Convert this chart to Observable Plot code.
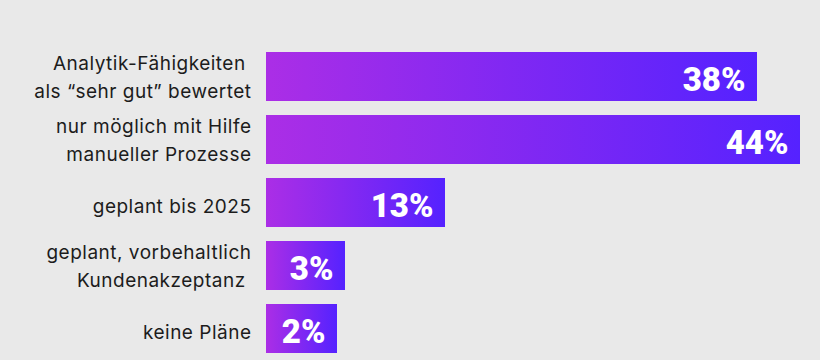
<!DOCTYPE html>
<html>
<head>
<meta charset="utf-8">
<script src="https://cdn.jsdelivr.net/npm/d3@7"></script>
<script src="https://cdn.jsdelivr.net/npm/@observablehq/plot@0.6"></script>
<style>
  html, body { margin: 0; padding: 0; background: #e9e9e9; }
  #chart { width: 820px; height: 360px; }
</style>
</head>
<body>
<div id="chart"></div>
<script>
const categories = [
  "Analytik-Fähigkeiten\u00a0\nals “sehr gut” bewertet",
  "nur möglich mit Hilfe\nmanueller Prozesse",
  "geplant bis 2025",
  "geplant, vorbehaltlich\nKundenakzeptanz\u00a0",
  "keine Pläne"
];
const values = [38, 44, 13, 3, 2];
const valueLabels = ["38%", "44%", "13%", "3%", "2%"];

const data = categories.map((c, i) => ({label: c, value: values[i], pct: valueLabels[i]}));

// the infographic uses a non-uniform (piecewise) value axis
const xKnots = [0, 2, 3, 13, 38, 44];
const xPixels = [266, 337, 345, 445, 757, 800];

const gradient = () => {
  const ns = "http://www.w3.org/2000/svg";
  const defs = document.createElementNS(ns, "defs");
  const lg = document.createElementNS(ns, "linearGradient");
  lg.setAttribute("id", "barGrad");
  lg.setAttribute("x1", "0"); lg.setAttribute("x2", "1");
  lg.setAttribute("y1", "0"); lg.setAttribute("y2", "0");
  [["0", "#ab2ee6"], ["1", "#5522ff"]].forEach(([o, c]) => {
    const s = document.createElementNS(ns, "stop");
    s.setAttribute("offset", o);
    s.setAttribute("stop-color", c);
    lg.appendChild(s);
  });
  defs.appendChild(lg);
  return defs;
};

const labelOpts = {
  y: "label", text: "label", frameAnchor: "left", textAnchor: "end",
  dx: -15, fontSize: 19, lineHeight: 1.49, fill: "#1c1c1c"
};

const chart = Plot.plot({
  width: 820,
  height: 360,
  marginTop: 52,
  marginBottom: 7,
  marginLeft: 266,
  marginRight: 20,
  style: {background: "transparent", fontFamily: "Inter, 'Liberation Sans', sans-serif"},
  x: {type: "linear", domain: xKnots, range: xPixels, axis: null},
  y: {domain: categories, paddingInner: 0.23, paddingOuter: 0, axis: null},
  marks: [
    gradient,
    Plot.barX(data, {x: "value", y: "label", fill: "url(#barGrad)"}),
    Plot.text(data.filter(d => d.label.includes("\n")), {...labelOpts, dy: -2}),
    Plot.text(data.filter(d => !d.label.includes("\n")), {...labelOpts, dy: 0.5}),
    Plot.text(data, {
      x: "value", y: "label", text: "pct", textAnchor: "end",
      dx: -12, dy: 3, fontSize: 33, fontWeight: 900, fill: "white",
      fontFamily: "Roboto, Inter, sans-serif"
    })
  ]
});
// letter-spacing for the category labels (2nd and 3rd text layers)
const textLayers = chart.querySelectorAll('g[aria-label="text"]');
[textLayers[0], textLayers[1]].forEach(g => g && g.setAttribute("letter-spacing", "0.5"));
document.getElementById("chart").appendChild(chart);
</script>
</body>
</html>
